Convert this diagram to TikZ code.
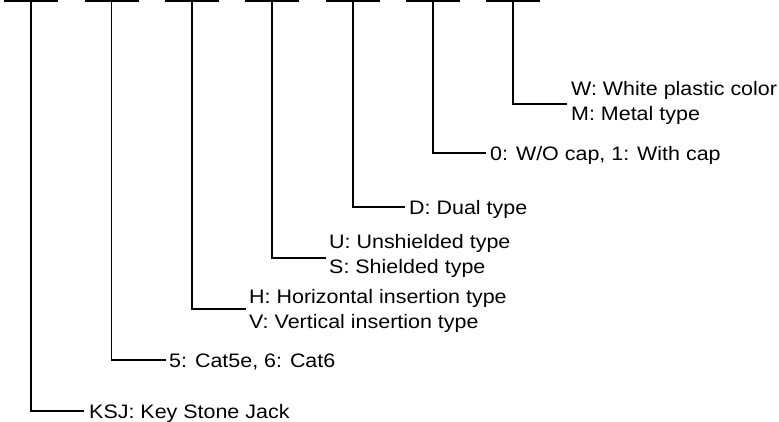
\documentclass[tikz,border=0pt]{standalone}
\usepackage{fontspec}
\setmainfont{Liberation Sans}[FakeStretch=1.1]
\begin{document}
\begin{tikzpicture}[x=1pt,y=-1pt,
  bar/.style={line width=2.4pt},
  lead/.style={line width=1.7pt},
  lbl/.style={anchor=base west, inner sep=0pt, font=\fontsize{19.5}{24.5}\selectfont, align=left}]
\useasboundingbox (0,0) rectangle (779,421);
% top bars (code positions)
\coordinate (b1) at (31,1);
\coordinate (b2) at (111.5,1);
\coordinate (b3) at (192,1);
\coordinate (b4) at (272,1);
\coordinate (b5) at (353,1);
\coordinate (b6) at (433,1);
\coordinate (b7) at (513,1);
\foreach \b in {b1,b2,b3,b4,b5,b6,b7}
  \draw[bar] ([xshift=-27pt]\b) -- ([xshift=27pt]\b);
% leader ends
\coordinate (e1) at (84,411);
\coordinate (e2) at (166,360);
\coordinate (e3) at (246,309);
\coordinate (e4) at (326,258);
\coordinate (e5) at (405,207);
\coordinate (e6) at (486,153);
\coordinate (e7) at (567,104);
% labels (base anchor of two-line labels = baseline of last line)
\node[lbl] (t1) at (89,418) {KSJ: Key Stone Jack};
\node[lbl] (t2) at (169,367) {5: Cat5e, 6: Cat6};
\node[lbl] (t3) at (249,328) {H: Horizontal insertion type\\V: Vertical insertion type};
\node[lbl] (t4) at (329,273) {U: Unshielded type\\S: Shielded type};
\node[lbl] (t5) at (409,214) {D: Dual type};
\node[lbl] (t6) at (490,160) {0: W/O cap, 1: With cap};
\node[lbl] (t7) at (571,120) {W: White plastic color\\M: Metal type};
% leaders
\foreach \i in {1,...,7}
  \draw[lead] (b\i) |- (e\i);
\end{tikzpicture}
\end{document}
